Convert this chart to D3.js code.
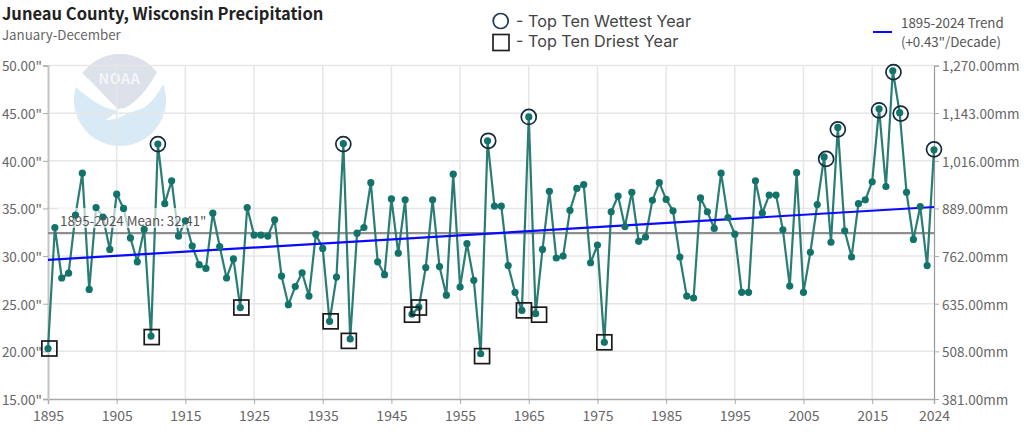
<!DOCTYPE html>
<html>
<head>
<meta charset="utf-8">
<script src="https://cdn.jsdelivr.net/npm/d3@7"></script>
<style>
html, body { margin: 0; padding: 0; background: #fff; }
svg { display: block; }
text { font-family: "Noto Sans CJK SC", "Noto Sans", sans-serif; fill: #666; }
</style>
</head>
<body>
<div id="chart"></div>
<script>
// Values (inches)
const firstYear = 1895;
const precip = [
    20.3, 33.0, 27.7, 28.2, 34.3, 38.7, 26.5, 35.1, 34.1, 30.7,
    36.5, 35.0, 31.9, 29.4, 32.8, 21.6, 41.75, 35.5, 37.9, 32.1,
    33.7, 31.05, 29.1, 28.7, 34.5, 31.0, 27.7, 29.7, 24.6, 35.1,
    32.2, 32.2, 32.1, 33.8, 27.9, 24.9, 26.8, 28.25, 25.8, 32.3,
    30.8, 23.15, 27.8, 41.8, 21.3, 32.4, 33.0, 37.7, 29.4, 28.05,
    36.0, 30.3, 35.9, 23.9, 24.65, 28.8, 35.9, 28.9, 25.9, 38.6,
    26.75, 31.3, 27.45, 19.75, 42.1, 35.25, 35.25, 29.0, 26.2, 24.3,
    44.6, 23.95, 30.7, 36.8, 29.8, 30.0, 34.8, 37.1, 37.5, 29.3,
    31.15, 20.95, 34.65, 36.3, 33.1, 36.7, 31.55, 32.0, 35.85, 37.7,
    35.95, 34.75, 29.9, 25.8, 25.6, 36.1, 34.65, 32.9, 38.7, 34.05,
    32.3, 26.2, 26.2, 37.9, 34.5, 36.4, 36.4, 32.75, 26.85, 38.75,
    26.2, 30.4, 35.4, 40.4, 31.45, 43.5, 32.65, 29.9, 35.5, 35.9,
    37.8, 45.45, 37.3, 49.45, 45.05, 36.7, 31.75, 35.2, 29.0, 41.15
];
const years = precip.map((d, i) => firstYear + i);

// Markers do not sit exactly on their points in the source chart
const wetYears = [1911, 1938, 1959.1, 1965, 2008.3, 2010, 2016, 2018.1, 2019.15, 2024];
const wetValues = [41.75, 41.75, 42.1, 44.6, 40.2, 43.3, 45.3, 49.3, 44.95, 41.2];
const dryYears = [1895.2, 1910.1, 1923.15, 1936.15, 1938.8, 1948, 1949, 1958.2, 1964.3, 1966.5, 1976];
const dryValues = [20.3, 21.5, 24.6, 23.15, 21.1, 23.85, 24.6, 19.5, 24.3, 23.85, 20.95];

const trendYears = [1895, 2024];
const trendValues = [29.6, 35.15];
const meanValue = 32.41;

const xTicks = [1895, 1905, 1915, 1925, 1935, 1945, 1955, 1965, 1975, 1985, 1995, 2005, 2015, 2024];
const inchTicks = [15, 20, 25, 30, 35, 40, 45, 50];
const mmTicks = [381, 508, 635, 762, 889, 1016, 1143, 1270];

const width = 1024, height = 432;
const plotLeft = 48, plotRight = 934, plotTop = 65.5, plotBottom = 399;

const svg = d3.select("#chart").append("svg")
    .attr("width", width)
    .attr("height", height);

const x = d3.scaleLinear().domain([1895, 2024]).range([plotLeft, plotRight]);
const y = d3.scaleLinear().domain([15, 50]).range([plotBottom, plotTop]);
const yMm = d3.scaleLinear().domain([381, 1270]).range([plotBottom, plotTop]);

// NOAA logo, behind everything
const logo = svg.append("g");
logo.append("clipPath").attr("id", "logo-clip")
    .append("circle").attr("cx", 120).attr("cy", 100).attr("r", 46);
const lg = logo.append("g").attr("clip-path", "url(#logo-clip)");
lg.append("rect").attr("x", 70).attr("y", 50).attr("width", 100).attr("height", 100).attr("fill", "#d9eaf7");
lg.append("path")
    .attr("fill", "#dde1ea")
    .attr("d", "M70,50 L170,50 L170,70 L157,72 C150,85 140,100 125,108 L118,109 C108,100 95,85 83,74 L70,70 Z");
lg.append("path")
    .attr("fill", "#fff")
    .attr("d", "M70,70 L83,74 C95,85 108,100 118,109 L125,108 C140,100 150,85 157,72 L170,78 L165,80 C158,95 150,105 141,109 L128,113 C120,118 112,120 106,120 C112,116 115,113 118,111 C100,108 90,98 75,87 L70,84 Z");
logo.append("text")
    .attr("x", 119.5).attr("y", 83.5)
    .attr("text-anchor", "middle")
    .attr("font-size", 14).attr("font-weight", 700)
    .attr("letter-spacing", 0.8)
    .style("fill", "#f4f5f8")
    .text("NOAA");

// Grid
const grid = svg.append("g");
grid.selectAll("line.h").data(inchTicks.slice(1)).enter().append("line")
    .attr("class", "h")
    .attr("x1", plotLeft).attr("x2", plotRight)
    .attr("y1", d => y(d)).attr("y2", d => y(d))
    .attr("stroke", "#e6e6e6").attr("stroke-width", 1.5);
grid.selectAll("line.v").data(xTicks.slice(1, -1)).enter().append("line")
    .attr("class", "v")
    .attr("x1", d => x(d)).attr("x2", d => x(d))
    .attr("y1", plotTop).attr("y2", plotBottom)
    .attr("stroke", "#e6e6e6").attr("stroke-width", 1.5);

// Axes
const xAxis = svg.append("g")
    .attr("transform", `translate(0,${plotBottom})`)
    .call(d3.axisBottom(x).tickValues(xTicks).tickFormat(d3.format("d")).tickSize(5).tickPadding(7));
const yAxis = svg.append("g")
    .attr("transform", `translate(${plotLeft},0)`)
    .call(d3.axisLeft(y).tickValues(inchTicks).tickFormat(d => d3.format(".2f")(d) + '"').tickSize(5).tickPadding(1));
const yAxisR = svg.append("g")
    .attr("transform", `translate(${plotRight},0)`)
    .call(d3.axisRight(yMm).tickValues(mmTicks).tickFormat(d => d3.format(",.2f")(d) + "mm").tickSize(5).tickPadding(3));

[xAxis, yAxis, yAxisR].forEach(a => {
    a.selectAll("text").attr("font-size", 14).style("font-family", '"Noto Sans CJK SC"').style("fill", "#666");
    a.selectAll("line").attr("stroke", "#aaa");
});
yAxis.selectAll("text").attr("dy", "0.4em").attr("font-size", 13.5);
yAxisR.selectAll("text").attr("dy", "0.4em").attr("font-size", 13.5);
xAxis.select(".domain").attr("stroke", "#aaa").attr("stroke-width", 1.5);
yAxis.select(".domain").attr("stroke", "#c4c4c4").attr("stroke-width", 2);
yAxisR.select(".domain").attr("stroke", "#999").attr("stroke-width", 1.2);

// Mean line
svg.append("line")
    .attr("x1", plotLeft).attr("x2", plotRight)
    .attr("y1", y(meanValue)).attr("y2", y(meanValue))
    .attr("stroke", "#8f8f8f").attr("stroke-width", 2.2);

// Precipitation line
const line = d3.line().x((d, i) => x(years[i])).y(d => y(d));
svg.append("path")
    .datum(precip)
    .attr("fill", "none")
    .attr("stroke", "#2a7d75")
    .attr("stroke-width", 2.2)
    .attr("stroke-linejoin", "round")
    .attr("d", line);

// Trend
const trendLine = d3.line().x((d, i) => x(trendYears[i])).y(d => y(d));
svg.append("path")
    .datum(trendValues)
    .attr("fill", "none")
    .attr("stroke", "#0a0aff")
    .attr("stroke-width", 2.2)
    .attr("d", trendLine);

// Mean label background fades the line behind it
svg.append("rect")
    .attr("x", 58).attr("y", 208).attr("width", 150).attr("height", 20)
    .attr("fill", "#fff").attr("fill-opacity", 0.65);

// Points
svg.append("g").selectAll("circle").data(precip).enter().append("circle")
    .attr("cx", (d, i) => x(years[i]))
    .attr("cy", d => y(d))
    .attr("r", 3.6)
    .attr("fill", "#12736a");

svg.append("text")
    .attr("x", 60).attr("y", 226)
    .attr("font-size", 13.3)
    .style("fill", "#555")
    .text('1895-2024 Mean: ' + meanValue + '"');

// Wettest / driest markers
svg.append("g").selectAll("circle").data(wetValues).enter().append("circle")
    .attr("cx", (d, i) => x(wetYears[i]))
    .attr("cy", d => y(d))
    .attr("r", 7.5)
    .attr("fill", "none")
    .attr("stroke", "#14293a")
    .attr("stroke-width", 1.7);

svg.append("g").selectAll("rect").data(dryValues).enter().append("rect")
    .attr("x", (d, i) => x(dryYears[i]) - 7.5)
    .attr("y", d => y(d) - 7.5)
    .attr("width", 15).attr("height", 15)
    .attr("fill", "none")
    .attr("stroke", "#1a1a1a")
    .attr("stroke-width", 1.7);

// Title
svg.append("text").attr("x", 2).attr("y", 20)
    .attr("font-size", 16.5).attr("font-weight", 700)
    .style("fill", "#222")
    .text("Juneau County, Wisconsin Precipitation");
svg.append("text").attr("x", 2).attr("y", 40)
    .attr("font-size", 13.3)
    .style("fill", "#666")
    .text("January-December");

// Symbol legend
svg.append("circle").attr("cx", 500.7).attr("cy", 21).attr("r", 7.5)
    .attr("fill", "none").attr("stroke", "#1d3a50").attr("stroke-width", 1.7);
svg.append("rect").attr("x", 493).attr("y", 34.5).attr("width", 16).attr("height", 16)
    .attr("fill", "none").attr("stroke", "#222").attr("stroke-width", 1.7);
svg.append("text").attr("x", 516).attr("y", 27)
    .attr("font-size", 16.2).style("font-family", "Inter").style("fill", "#444")
    .text("- Top Ten Wettest Year");
svg.append("text").attr("x", 516).attr("y", 46.5)
    .attr("font-size", 16.2).style("font-family", "Inter").style("fill", "#444")
    .text("- Top Ten Driest Year");

// Trend legend
svg.append("line").attr("x1", 873).attr("x2", 892).attr("y1", 32).attr("y2", 32)
    .attr("stroke", "#0a0aff").attr("stroke-width", 2);
svg.append("text").attr("x", 901).attr("y", 28)
    .attr("font-size", 13.3).style("fill", "#555")
    .text("1895-2024 Trend");
svg.append("text").attr("x", 901).attr("y", 47)
    .attr("font-size", 13.3).style("fill", "#555")
    .text('(+0.43"/Decade)');
</script>
</body>
</html>
